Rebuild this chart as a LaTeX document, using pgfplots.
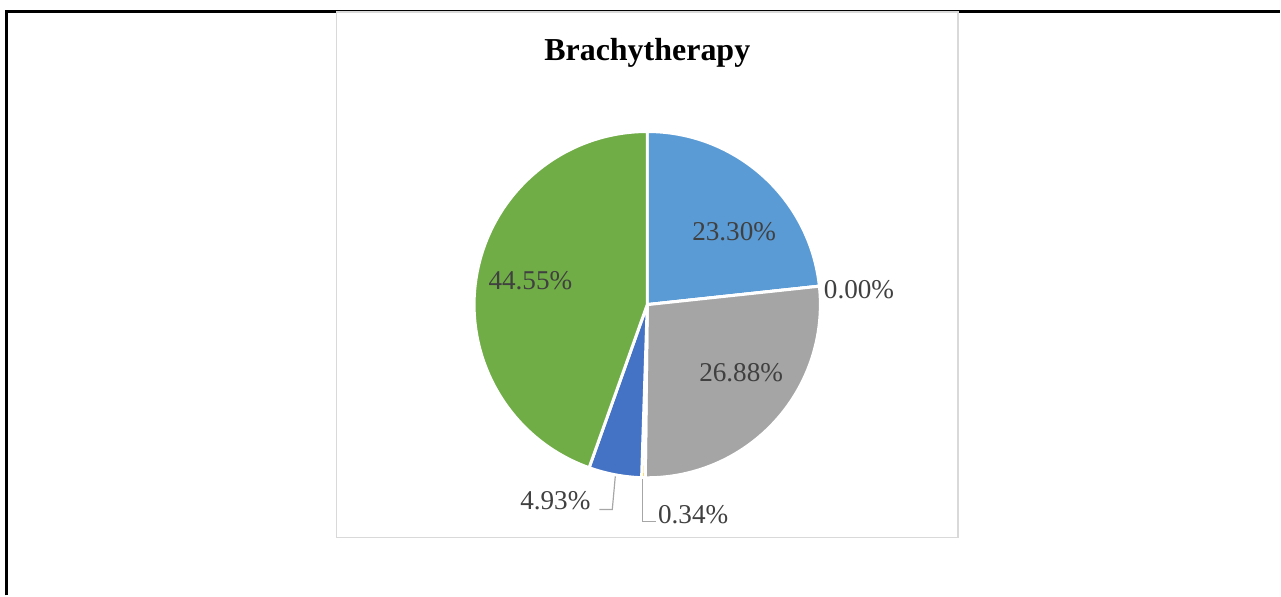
\documentclass[border=0pt]{standalone}
\usepackage{pgfplots}
\pgfplotsset{compat=1.18}
\usepackage{fontspec}
\setmainfont{Liberation Serif}

\definecolor{sA}{HTML}{5B9BD5}
\definecolor{sB}{HTML}{ED7D31}
\definecolor{sC}{HTML}{A5A5A5}
\definecolor{sD}{HTML}{FFC000}
\definecolor{sE}{HTML}{4472C4}
\definecolor{sF}{HTML}{70AD47}
\definecolor{labc}{HTML}{404040}
\definecolor{boxc}{HTML}{D9D9D9}
\definecolor{leadc}{HTML}{A6A6A6}

\begin{document}
\begin{tikzpicture}
\begin{axis}[
  width=960.75pt, height=447pt, scale only axis,
  xmin=0, xmax=1281, ymin=0, ymax=596, y dir=reverse,
  axis lines=none, ticks=none, clip=false,
]
\path (axis cs:0,0) rectangle (axis cs:1281,596);

% outer frame and chart area
\draw[line width=2.25pt] (axis cs:7,596) -- (axis cs:7,12) -- (axis cs:1281,12);
\draw[boxc, line width=1.2pt] (axis cs:337,12) rectangle (axis cs:959,538);

% pie slices, clockwise from the top
\gdef\cum{90}
\foreach \v/\c in {23.30/sA,0.00/sB,26.88/sC,0.34/sD,4.93/sE,44.55/sF}{
  \pgfmathsetmacro\a{\cum}
  \pgfmathsetmacro\b{\cum-3.6*\v}
  \edef\temp{\noexpand\filldraw[fill=\c, draw=white, line width=2.25pt, line join=round]
    (axis cs:648,305) -- ++(\a:130pt) arc[start angle=\a, end angle=\b, radius=130pt] -- cycle;}
  \temp
  \xdef\cum{\b}
}

% leader lines
\draw[leadc, line width=0.9pt] (axis cs:616,477) -- (axis cs:613,510) -- (axis cs:600,510);
\draw[leadc, line width=0.9pt] (axis cs:643,480) -- (axis cs:643,522) -- (axis cs:657,522);

% title and data labels
\node[font=\fontsize{24}{28}\selectfont\bfseries] at (axis cs:648,53) {Brachytherapy};
\begin{scope}[every node/.style={text=labc, font=\fontsize{20.4}{24}\selectfont}]
\node at (axis cs:735,232) {23.30\%};
\node at (axis cs:860,290) {0.00\%};
\node at (axis cs:742,373) {26.88\%};
\node at (axis cs:531,281) {44.55\%};
\node at (axis cs:556,501) {4.93\%};
\node at (axis cs:694,515) {0.34\%};
\end{scope}
\end{axis}
\end{tikzpicture}
\end{document}
